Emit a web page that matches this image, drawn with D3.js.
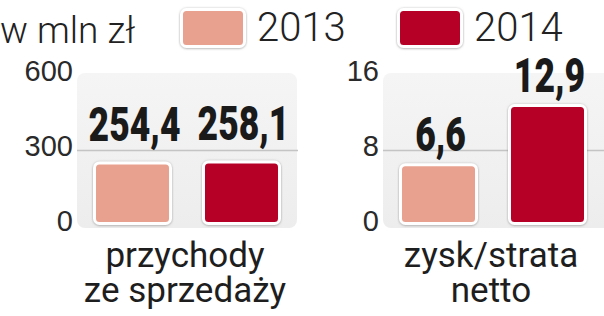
<!DOCTYPE html>
<html>
<head>
<meta charset="utf-8">
<script src="https://cdn.jsdelivr.net/npm/d3@7"></script>
<style>
  body { margin: 0; background: #fff; }
  svg { display: block; font-family: Roboto, "Noto Sans", sans-serif; }
  .tick text { fill: #2a2a2a; font-weight: 300; font-size: 29px; }
  .value { font-weight: 900; font-size: 48px; fill: #1a1a1a; text-anchor: middle; }
  .cat { font-size: 35px; fill: #1e1e1e; text-anchor: middle; }
  .legend { font-size: 40px; font-weight: 300; fill: #222; }
</style>
</head>
<body>
<div id="chart"></div>
<script>
const years = ['2013', '2014'];
const colors = ['#e8a08f', '#b70028'];
const categoryLines = [['przychody', 'ze sprzedaży'], ['zysk/strata', 'netto']];
const revenue = [254.4, 258.1];
const netProfit = [6.6, 12.9];
const revenueTicks = [0, 300, 600];
const profitTicks = [0, 8, 16];
const unitLabel = 'w mln zł';

const width = 604;
const height = 316;

const fmt = d3.formatLocale({decimal: ',', thousands: ' ', grouping: [3], currency: ['', ' zł']}).format('.1f');

const svg = d3.select('#chart').append('svg')
  .attr('width', width)
  .attr('height', height);

const defs = svg.append('defs');
const shadow = defs.append('filter').attr('id', 'shadow')
  .attr('x', '-10%').attr('y', '-10%').attr('width', '120%').attr('height', '120%');
shadow.append('feDropShadow')
  .attr('dx', 0).attr('dy', 0.5)
  .attr('stdDeviation', 1.2)
  .attr('flood-color', '#777')
  .attr('flood-opacity', 0.7);

const bgGrad = defs.append('linearGradient').attr('id', 'bg')
  .attr('x1', 0).attr('x2', 0).attr('y1', 0).attr('y2', 1);
bgGrad.append('stop').attr('offset', '0%').attr('stop-color', '#f5f5f5');
bgGrad.append('stop').attr('offset', '100%').attr('stop-color', '#ededed');

// legend
svg.append('text')
  .attr('class', 'legend')
  .attr('x', 0)
  .attr('y', 43)
  .style('font-size', '37px')
  .text(unitLabel);

const legendX = d3.scalePoint().domain(years).range([180, 397]);

const legendG = svg.selectAll('.leg')
  .data(years)
  .join('g')
  .attr('class', 'leg')
  .attr('transform', d => `translate(${legendX(d)}, 8)`);

legendG.append('rect')
  .attr('x', 1.5).attr('y', 1.5)
  .attr('width', 63).attr('height', 37)
  .attr('rx', 5)
  .attr('fill', (d, i) => colors[i])
  .attr('stroke', '#fff')
  .attr('stroke-width', 3)
  .attr('filter', 'url(#shadow)');

legendG.append('text')
  .attr('class', 'legend')
  .attr('x', 77)
  .attr('y', 33)
  .text(d => d);

// panels
const y0 = 225;
const yTop = 75;

const panels = [
  {values: revenue, ticks: revenueTicks, x0: 78, x1: 296, labelGap: 20, lines: categoryLines[0]},
  {values: netProfit, ticks: profitTicks, x0: 384, x1: 602, labelGap: 12, lines: categoryLines[1]}
];

panels.forEach(p => {
  const yScale = d3.scaleLinear()
    .domain([0, d3.max(p.ticks)])
    .range([y0, yTop]);

  const xScale = d3.scaleBand()
    .domain(years)
    .range([p.x0, p.x1])
    .paddingInner(0.275)
    .paddingOuter(0.1376);

  const g = svg.append('g');

  // background
  g.append('rect')
    .attr('x', p.x0 - 1)
    .attr('y', yTop - 2)
    .attr('width', p.x1 === 602 ? 230 : p.x1 - p.x0 + 2)
    .attr('height', y0 - yTop + 5)
    .attr('rx', 8)
    .attr('fill', 'url(#bg)');

  // middle gridline
  g.selectAll('.grid')
    .data(p.ticks.slice(1, -1))
    .join('line')
    .attr('class', 'grid')
    .attr('x1', p.x0 - 1)
    .attr('x2', Math.min(p.x1 + 2, width))
    .attr('y1', d => Math.round(yScale(d)) + 0.5)
    .attr('y2', d => Math.round(yScale(d)) + 0.5)
    .attr('stroke', '#c4c4c4')
    .attr('stroke-width', 1.5);

  // axis
  const axisG = g.append('g')
    .attr('transform', `translate(${p.x0 - 1}, 0)`)
    .call(d3.axisLeft(yScale)
      .tickValues(p.ticks)
      .tickSize(0)
      .tickPadding(4));
  axisG.select('.domain').remove();
  axisG.selectAll('.tick text')
    .attr('dy', '0.2em')
    .attr('font-size', null)
    .attr('font-family', null);

  // bars
  g.selectAll('.bar')
    .data(p.values)
    .join('rect')
    .attr('class', 'bar')
    .attr('x', (d, i) => xScale(years[i]) + 1.5)
    .attr('y', d => yScale(d) + 1.5)
    .attr('width', xScale.bandwidth() - 3)
    .attr('height', d => y0 - yScale(d) - 3)
    .attr('rx', 5)
    .attr('fill', (d, i) => colors[i])
    .attr('stroke', '#fff')
    .attr('stroke-width', 3)
    .attr('filter', 'url(#shadow)');

  // value labels
  g.selectAll('.value')
    .data(p.values)
    .join('text')
    .attr('class', 'value')
    .attr('transform', (d, i) =>
      `translate(${xScale(years[i]) + xScale.bandwidth() / 2 + 2}, ${yScale(d) - p.labelGap}) scale(0.74, 1)`)
    .text(d => fmt(d));

  // category label
  g.selectAll('.cat')
    .data(p.lines)
    .join('text')
    .attr('class', 'cat')
    .attr('x', (p.x0 + p.x1) / 2 - 2)
    .attr('y', (d, i) => 267 + i * 35)
    .text(d => d);
});
</script>
</body>
</html>
